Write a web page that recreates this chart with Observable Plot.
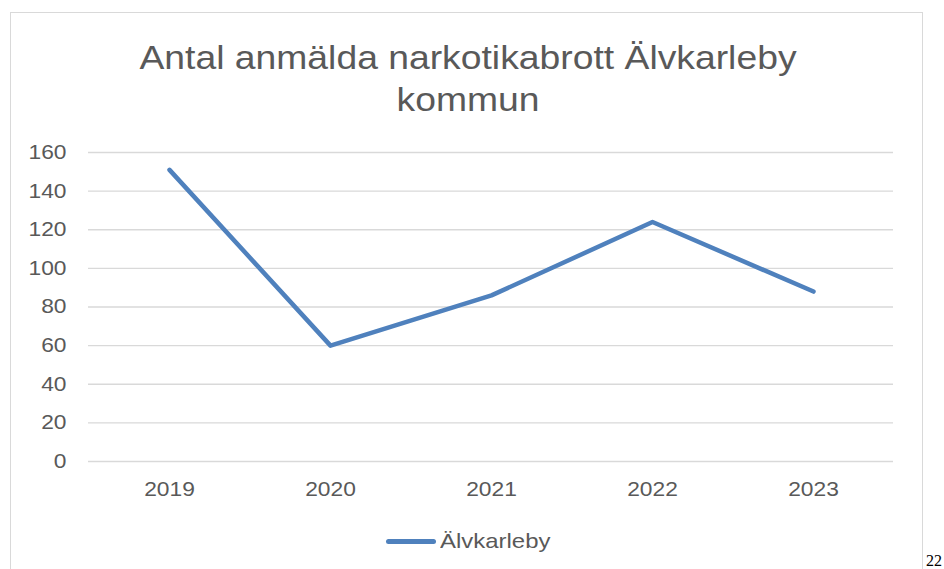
<!DOCTYPE html>
<html><head><meta charset="utf-8">
<script src="https://cdn.jsdelivr.net/npm/d3@7"></script>
<script src="https://cdn.jsdelivr.net/npm/@observablehq/plot@0.6"></script>
<style>
body{margin:0;width:944px;height:569px;overflow:hidden;background:#fff;font-family:"Liberation Sans",Arial,sans-serif;position:relative}
#frame{position:absolute;left:10px;top:12px;width:913px;height:600px;border:1px solid #d9d9d9;box-sizing:border-box}
#title{position:absolute;left:0;width:936px;top:37px;text-align:center;font-size:33px;line-height:42px;color:#595959;transform:scaleX(1.13);transform-origin:468px 0}
#chart{position:absolute;left:0;top:130px}
#legend{position:absolute;left:386px;top:529px;display:flex;align-items:center;font-size:21px;color:#595959}
#legend span.l{display:inline-block;width:50px;height:5px;border-radius:3px;background:#4f81bd;margin-right:4px}
#legend span.t{display:inline-block;transform:scaleX(1.14);transform-origin:0 0}
#pg{position:absolute;left:926px;top:553px;font-family:"Liberation Serif","Times New Roman",serif;font-size:16px;line-height:16px;color:#000}
</style></head>
<body>
<div id="frame"></div>
<div id="title">Antal anmälda narkotikabrott Älvkarleby<br>kommun</div>
<div id="chart"></div>
<div id="legend"><span class="l"></span><span class="t">Älvkarleby</span></div>
<div id="pg">22</div>
<script>
const years = ["2019","2020","2021","2022","2023"];
const values = [151, 60, 86, 124, 88];
const yTicks = [0,20,40,60,80,100,120,140,160];
const data = years.map((y,i)=>({year:y, value:values[i]}));
const chart = Plot.plot({
  width:944, height:380,
  marginLeft:88, marginRight:51, marginTop:22, marginBottom:49,
  style:{fontFamily:"'Liberation Sans', Arial, sans-serif", fontSize:"20px", color:"#595959", background:"transparent"},
  x:{type:"point", domain:years, padding:0.5, label:null, tickSize:0, tickPadding:20},
  y:{domain:[0,160], ticks:yTicks, label:null, tickSize:0, tickPadding:22},
  marks:[
    Plot.ruleY(yTicks,{stroke:"#d9d9d9", strokeWidth:1.3}),
    Plot.line(data,{x:"year", y:"value", stroke:"#4f81bd", strokeWidth:4.5, strokeLinecap:"round", strokeLinejoin:"round"})
  ]
});
// horizontal stretch of the glyphs, as in the reference
chart.querySelectorAll("text").forEach(t => {
  const tr = t.getAttribute("transform");
  if (tr) t.setAttribute("transform", tr + " scale(1.14,1)");
  else {
    const x = +(t.getAttribute("x") || 0), y = +(t.getAttribute("y") || 0);
    t.setAttribute("transform", `translate(${x},${y}) scale(1.14,1) translate(${-x},${-y})`);
  }
});
document.getElementById("chart").appendChild(chart);
</script>
</body></html>
